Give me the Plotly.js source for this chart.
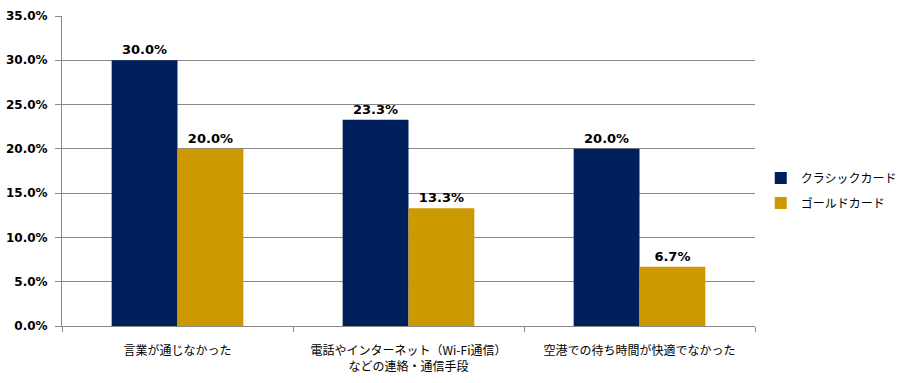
<!DOCTYPE html>
<html><head><meta charset="utf-8">
<script src="https://cdn.plot.ly/plotly-3.0.1.min.js"></script>
<style>body{margin:0;background:#fff}#c{width:910px;height:383px}</style>
</head><body><div id="c"></div>
<script>
const categories = ["言業が通じなかった", "電話やインターネット（Wi-Fi通信）<br>などの連絡・通信手段", "空港での待ち時間が快適でなかった"];
const seriesNames = ["クラシックカード", "ゴールドカード"];
const classic = [30.0, 23.3, 20.0];
const gold = [20.0, 13.3, 6.7];
const colors = ["#00205B", "#CC9900"];
const jp = "'Noto Sans CJK JP', 'DejaVu Sans', sans-serif";
const lblFont = {family: "Tahoma, 'DejaVu Sans', sans-serif", size: 13, color: "#000", weight: "bold"};
const mk = (name, vals, col, lg) => ({
  type: "bar", name: name, x: categories, y: vals,
  marker: {color: col}, legend: lg,
  texttemplate: "<b>%{y:.1f}%</b>", textposition: "outside",
  textfont: lblFont, cliponaxis: false, hoverinfo: "skip"
});
const data = [mk(seriesNames[0], classic, colors[0], "legend"), mk(seriesNames[1], gold, colors[1], "legend2")];
const legFont = {family: jp, size: 12, color: "#000"};
const layout = {
  width: 910, height: 383,
  margin: {l: 62, r: 155, t: 16, b: 57},
  barmode: "group", bargap: 0.43, bargroupgap: 0,
  paper_bgcolor: "#fff", plot_bgcolor: "#fff",
  showlegend: true,
  legend: {xref: "container", yref: "container", x: 0.836, y: 1 - 178/383, yanchor: "middle", xanchor: "left", font: legFont, itemwidth: 30, bgcolor: "rgba(0,0,0,0)"},
  legend2: {xref: "container", yref: "container", x: 0.836, y: 1 - 203/383, yanchor: "middle", xanchor: "left", font: legFont, itemwidth: 30, bgcolor: "rgba(0,0,0,0)"},
  xaxis: {
    type: "category", showline: true, linecolor: "#888", linewidth: 1,
    ticks: "outside", tickson: "boundaries", ticklen: 5, tickcolor: "#888",
    ticklabelstandoff: 14,
    tickfont: {family: jp, size: 12, color: "#000"}, showgrid: false
  },
  yaxis: {
    range: [0, 35], dtick: 5, tickformat: ".1f", ticksuffix: "%",
    showline: true, linecolor: "#888", linewidth: 1,
    ticks: "outside", ticklen: 6, tickcolor: "#888",
    ticklabelstandoff: 5,
    gridcolor: "#888", gridwidth: 1, zeroline: false,
    tickfont: {family: "Tahoma, 'DejaVu Sans', sans-serif", size: 12, color: "#000", weight: "bold"}
  }
};
Plotly.newPlot("c", data, layout, {displayModeBar: false, staticPlot: true});
</script></body></html>
